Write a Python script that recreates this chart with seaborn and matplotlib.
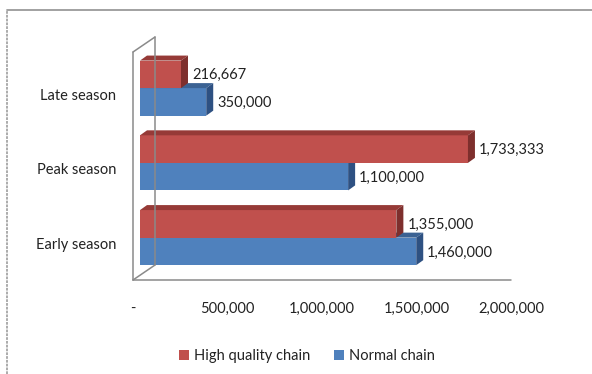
import numpy as np
import pandas as pd
import matplotlib
matplotlib.use("Agg")
import matplotlib.pyplot as plt
import seaborn as sns
from matplotlib.patches import Polygon, Patch
from matplotlib.lines import Line2D
from matplotlib.transforms import offset_copy, ScaledTranslation, IdentityTransform

# ---- data ----
seasons = ["Late season", "Peak season", "Early season"]
high_quality = [216667, 1733333, 1355000]
normal = [350000, 1100000, 1460000]
series_names = ["High quality chain", "Normal chain"]
x_ticks = [0, 500000, 1000000, 1500000, 2000000]
x_tick_labels = ["-", "500,000", "1,000,000", "1,500,000", "2,000,000"]

df = pd.DataFrame({
    "season": seasons * 2,
    "value": high_quality + normal,
    "chain": [series_names[0]] * 3 + [series_names[1]] * 3,
})

# ---- style ----
sns.set_style("white")
plt.rcParams["font.family"] = ["Lato", "DejaVu Sans"]
FS = 10.5
TXT = "#222222"
WALL = "#8a8a8a"
front_col = {series_names[0]: "#C0504D", series_names[1]: "#4F81BD"}
top_col = {series_names[0]: "#963a37", series_names[1]: "#3b6293"}
side_col = {series_names[0]: "#7e2f2d", series_names[1]: "#2e5182"}

W, H = 592, 374
fig = plt.figure(figsize=(W / 100, H / 100), dpi=100)
ax = fig.add_axes([140 / W, 1 - 275 / H, 378.4 / W, 228 / H])

sns.barplot(data=df, y="season", x="value", hue="chain", orient="h",
            order=seasons, hue_order=series_names,
            palette=[front_col[n] for n in series_names],
            width=56 / 76, saturation=1, legend=False, ax=ax,
            linewidth=0, err_kws={"linewidth": 0})
ax.set_xlim(0, 2000000)
ax.set_ylim(2.5, -0.55)
for s in ax.spines.values():
    s.set_visible(False)
ax.set_xlabel("")
ax.set_ylabel("")

# pixel -> data scale for the depth of the bars
to_data = ax.transData.inverted()
p0 = to_data.transform((0, 0))
p1 = to_data.transform((1, 1))
px_x = p1[0] - p0[0]
px_y = p1[1] - p0[1]
DX, DY = 7, 5  # depth of a bar, in pixels (right, up)
dxd, dyd = DX * px_x, DY * px_y

bars = [p for p in ax.patches if p.get_width() > 0]
n = len(seasons)
for i, p in enumerate(bars):
    name = series_names[i // n]
    is_high = name == series_names[0]
    p.set_zorder(4 if is_high else 2)
    x0, y0 = p.get_x(), p.get_y()
    w, h = p.get_width(), p.get_height()
    ytop = min(y0, y0 + h)
    ybot = max(y0, y0 + h)
    top = Polygon([(x0, ytop), (x0 + w, ytop), (x0 + w + dxd, ytop + dyd), (x0 + dxd, ytop + dyd)],
                  closed=True, facecolor=top_col[name], edgecolor="none",
                  zorder=5 if is_high else 3)
    side = Polygon([(x0 + w, ytop), (x0 + w, ybot), (x0 + w + dxd, ybot + dyd), (x0 + w + dxd, ytop + dyd)],
                   closed=True, facecolor=side_col[name], edgecolor="none",
                   zorder=5 if is_high else 3)
    ax.add_patch(top)
    ax.add_patch(side)
    lbl_tr = offset_copy(ax.transData, fig=fig, x=DX + 4, y=-1, units="dots")
    ax.text(x0 + w, (ytop + ybot) / 2, f"{int(round(w)):,}", transform=lbl_tr,
            ha="left", va="center", fontsize=FS, color=TXT, zorder=6)

# side wall and floor edge (front plane sits 7px left / 5px below the bars)
def disp(xd, yd, ox, oy):
    x, y = ax.transData.transform((xd, yd))
    return x + ox, y + oy

y_top, y_bot = ax.get_ylim()[1], ax.get_ylim()[0]
FX, FY = -7, -5
BX, BY = 15, 10
fl_top = disp(0, y_top, FX, FY)
fl_bot = disp(0, y_bot, FX, FY)
bl_top = disp(0, y_top, BX, BY)
bl_bot = disp(0, y_bot, BX, BY)
fr_bot = disp(2000000, y_bot, FX, FY)
segments = [(fl_top, fl_bot), (bl_top, bl_bot), (fl_top, bl_top), (fl_bot, bl_bot), (fl_bot, fr_bot)]
for a, b in segments:
    fig.add_artist(Line2D([a[0], b[0]], [a[1], b[1]], transform=IdentityTransform(),
                          color=WALL, lw=1.1, zorder=1))

# ticks on the front plane
ax.set_xticks(x_ticks)
ax.set_xticklabels(x_tick_labels, fontsize=FS, color=TXT)
ax.tick_params(axis="x", length=0, pad=16)
ax.tick_params(axis="y", length=0, pad=17, labelsize=FS, labelcolor=TXT)
shift_x = ScaledTranslation(FX / 100, FY / 100, fig.dpi_scale_trans)
for t in ax.get_xticklabels():
    t.set_transform(t.get_transform() + shift_x)
shift_y = ScaledTranslation(0, -6 / 100, fig.dpi_scale_trans)
for t in ax.get_yticklabels():
    t.set_transform(t.get_transform() + shift_y)

# legend
handles = [Patch(facecolor=front_col[nm], edgecolor="none") for nm in series_names]
fig.legend(handles, series_names, loc="center", bbox_to_anchor=(307 / W, 1 - 356 / H),
           ncol=2, frameon=False, fontsize=FS, handlelength=0.7, handleheight=0.7,
           handletextpad=0.35, columnspacing=1.6, labelcolor=TXT)

# chart frame
fig.add_artist(Line2D([7 / W, 1], [1 - 10 / H, 1 - 10 / H], transform=fig.transFigure,
                      color="#9a9a9a", lw=1.3))
fig.add_artist(Line2D([7 / W, 7 / W], [0, 1 - 10 / H], transform=fig.transFigure,
                      color="#a5a5a5", lw=1.3, linestyle=(0, (1.5, 0.6))))

fig.savefig("out.png", dpi=100)
